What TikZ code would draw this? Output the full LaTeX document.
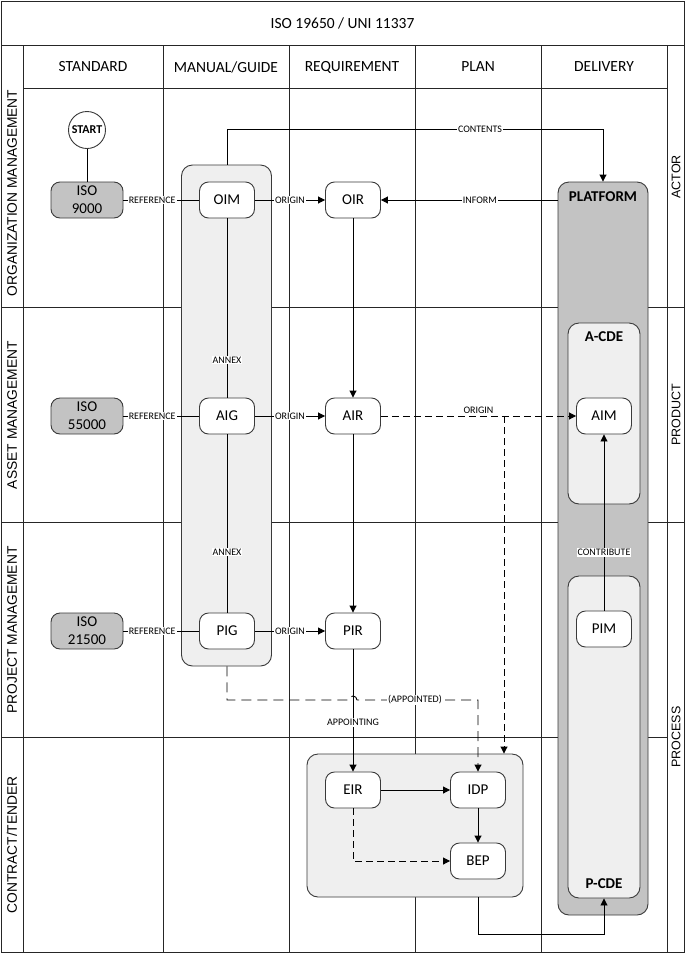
\documentclass[tikz,border=0pt]{standalone}
\usepackage{fontspec}
\setmainfont{Carlito}
\newfontfamily\arialf{Liberation Sans}
\usetikzlibrary{arrows.meta}
\definecolor{darkbox}{HTML}{C3C3C3}
\definecolor{lightbox}{HTML}{EFEFEF}
\definecolor{edge}{HTML}{3A3A3A}
\begin{document}
\begin{tikzpicture}[x=1pt,y=-1pt,
  gridline/.style={line width=0.9pt, draw=black!85},
  hdr/.style={font=\fontsize{15.5}{18}\selectfont},
  rowlbl/.style={rotate=90, font=\arialf\fontsize{13.8}{16}\selectfont},
  sidelbl/.style={rotate=90, font=\arialf\fontsize{12.5}{15}\selectfont},
  box/.style={draw=edge, line width=0.9pt, rounded corners=9pt, fill=white,
    minimum width=55pt, minimum height=36pt, inner sep=0pt, align=center,
    font=\fontsize{15}{18}\selectfont},
  isobox/.style={box, fill=darkbox, minimum width=72pt},
  group/.style={draw=edge, line width=0.9pt, rounded corners=11pt, fill=lightbox, inner sep=0pt},
  biglbl/.style={font=\bfseries\fontsize{15}{18}\selectfont},
  lbl/.style={fill=white, inner sep=1pt, font=\fontsize{10}{12}\selectfont},
  conn/.style={line width=0.9pt, draw=black},
  arr/.style={conn, -{Triangle[length=7pt,width=7pt]}},
  dsh/.style={dash pattern=on 7pt off 4pt},
  ldsh/.style={dash pattern=on 10pt off 6pt}
]
\fill[white] (0,0) rectangle (685,954);
\useasboundingbox (0,0) rectangle (685,954);

% ---------- grid ----------
\draw[gridline] (1,1) rectangle (684,952);
\draw[gridline] (1,45) -- (684,45);
\draw[gridline] (23,45) -- (23,952);
\draw[gridline] (667,45) -- (667,952);
\draw[gridline] (23,88) -- (667,88);
\foreach \xx in {163,289,415,541} \draw[gridline] (\xx,45) -- (\xx,952);
\draw[gridline] (1,307) -- (684,307);
\draw[gridline] (1,522) -- (684,522);
\draw[gridline] (1,737) -- (667,737);

% ---------- headings ----------
\node[hdr] (title) at (342.5,23) {ISO 19650 / UNI 11337};
\node[hdr] (h1) at (93,67) {STANDARD};
\node[hdr] (h2) at (226,67) {MANUAL/GUIDE};
\node[hdr] (h3) at (352,67) {REQUIREMENT};
\node[hdr] (h4) at (478,67) {PLAN};
\node[hdr] (h5) at (604,67) {DELIVERY};

\node[rowlbl] (r1) at (12,193) {ORGANIZATION MANAGEMENT};
\node[rowlbl] (r2) at (12,415) {ASSET MANAGEMENT};
\node[rowlbl] (r3) at (12,630) {PROJECT MANAGEMENT};
\node[rowlbl] (r4) at (12,845) {CONTRACT/TENDER};

\node[sidelbl] (s1) at (676,177) {ACTOR};
\node[sidelbl] (s2) at (676,415) {PRODUCT};
\node[sidelbl] (s3) at (676,737) {PROCESS};

% ---------- group boxes ----------
\node[group, minimum width=90pt, minimum height=501pt] (manual) at (226.5,415.5) {};
\node[group, fill=darkbox, minimum width=90pt, minimum height=733pt] (platform) at (603,548.5) {};
\node[biglbl] (platlbl) at (603,197) {PLATFORM};
\node[group, minimum width=72pt, minimum height=181pt] (acde) at (604,413.5) {};
\node[biglbl] (acdelbl) at (604,337) {A-CDE};
\node[group, minimum width=72pt, minimum height=322pt] (pcde) at (604,737) {};
\node[biglbl] (pcdelbl) at (604,884) {P-CDE};
\node[group, minimum width=216pt, minimum height=143pt] (cbox) at (415,825.5) {};

% ---------- nodes ----------
\node[draw=edge, line width=0.9pt, circle, fill=white, minimum size=37pt, inner sep=0pt,
      font=\bfseries\fontsize{12}{14}\selectfont] (start) at (87,130) {START};
\node[isobox] (iso9000) at (87,200) {ISO\\9000};
\node[isobox] (iso55000) at (87,416) {ISO\\55000};
\node[isobox] (iso21500) at (87,631) {ISO\\21500};

\node[box] (oim) at (227,200) {OIM};
\node[box] (aig) at (227,416) {AIG};
\node[box] (pig) at (227,631) {PIG};

\node[box] (oir) at (353,200) {OIR};
\node[box] (air) at (353,416) {AIR};
\node[box] (pir) at (353,631) {PIR};

\node[box] (aim) at (604,416) {AIM};
\node[box] (pim) at (604,629) {PIM};

\node[box] (eir) at (353,790) {EIR};
\node[box] (idp) at (478,790) {IDP};
\node[box] (bep) at (478,861) {BEP};

% ---------- connectors ----------
\draw[conn] (start) -- (iso9000);
\draw[conn] (iso9000) -- node[lbl, pos=0.38] {REFERENCE} (oim);
\draw[conn] (iso55000) -- node[lbl, pos=0.38] {REFERENCE} (aig);
\draw[conn] (iso21500) -- node[lbl, pos=0.38] {REFERENCE} (pig);

\draw[arr] (oim) -- node[lbl] {ORIGIN} (oir);
\draw[arr] (aig) -- node[lbl] {ORIGIN} (air);
\draw[arr] (pig) -- node[lbl] {ORIGIN} (pir);

\draw[conn] (oim) -- node[lbl, pos=0.79] {ANNEX} (aig);
\draw[conn] (aig) -- node[lbl, pos=0.66] {ANNEX} (pig);

\draw[arr] (oir) -- (air);
\draw[arr] (air) -- (pir);
\draw[arr] (pir) -- node[lbl, pos=0.6] {APPOINTING} (eir);

\coordinate (ctop) at (227,129);
\draw[arr] (oim |- manual.north) -- (ctop) -- (platform.north |- ctop) -- (platform.north);
\node[lbl] (contlbl) at (480,129) {CONTENTS};

\draw[arr] (oir -| platform.west) -- node[lbl, pos=0.44] {INFORM} (oir);

\draw[arr, dsh] (air) -- node[above=1pt, font=\fontsize{10}{12}\selectfont, inner sep=1pt] {ORIGIN} (aim);
\coordinate (br) at (504,416);
\draw[arr, dsh] (br) -- (br |- cbox.north);

\draw[arr] (pim) -- node[lbl, pos=0.33] {CONTRIBUTE} (aim);

\coordinate (ap) at (227,700);
\draw[arr, ldsh] (pig |- manual.south) -- (ap) -- (349,700) arc (180:360:4) -- (idp |- ap) -- (idp.north);
\node[lbl] (applbl) at (415,700) {(APPOINTED)};

\draw[arr] (eir) -- (idp);
\draw[arr] (idp) -- (bep);
\draw[arr, dsh] (eir) |- (bep);

\coordinate (bot) at (478,934);
\draw[arr] (bep |- cbox.south) -- (bot) -| (pcde.south);
\end{tikzpicture}
\end{document}
